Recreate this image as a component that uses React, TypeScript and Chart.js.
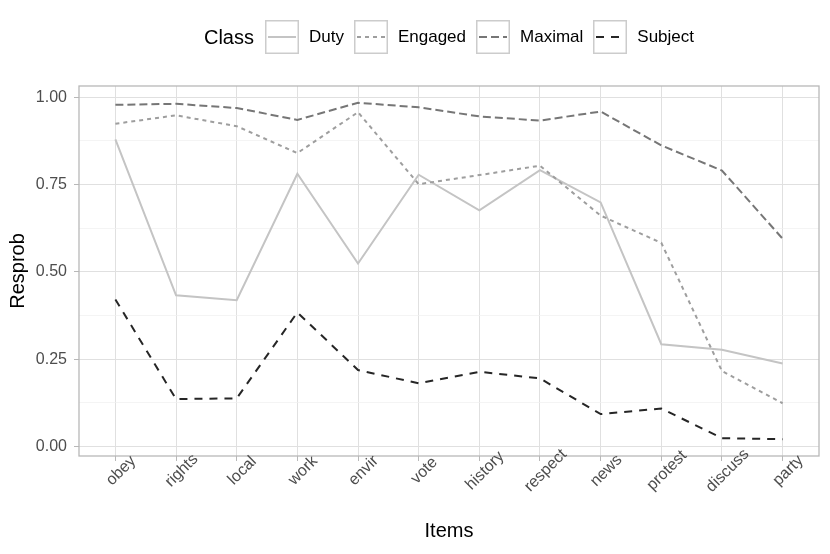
import { useEffect, useRef } from 'react';
import { Chart, registerables } from 'chart.js';

Chart.register(...registerables);

// items on the x axis, in plot order
const items = ['obey', 'rights', 'local', 'work', 'envir', 'vote', 'history', 'respect', 'news', 'protest', 'discuss', 'party'];

// response probabilities per class
const duty = [0.879, 0.433, 0.419, 0.781, 0.524, 0.778, 0.676, 0.791, 0.699, 0.293, 0.277, 0.238];
const engaged = [0.924, 0.948, 0.917, 0.840, 0.957, 0.751, 0.777, 0.804, 0.661, 0.583, 0.216, 0.124];
const maximal = [0.978, 0.981, 0.969, 0.935, 0.984, 0.971, 0.945, 0.933, 0.959, 0.862, 0.790, 0.595];
const subject = [0.421, 0.136, 0.138, 0.384, 0.219, 0.181, 0.214, 0.195, 0.093, 0.109, 0.024, 0.021];

// y grid: majors get labels, minors are just lighter lines
const yTicks = [0, 0.125, 0.25, 0.375, 0.5, 0.625, 0.75, 0.875, 1];
const yLabels = ['0.00', '', '0.25', '', '0.50', '', '0.75', '', '1.00'];

const FONT = '"Liberation Sans", Arial, Helvetica, sans-serif';

const classes = [
  { name: 'Duty', values: duty, color: '#c4c4c4', dash: [] as number[] },
  { name: 'Engaged', values: engaged, color: '#9e9e9e', dash: [4, 4] },
  { name: 'Maximal', values: maximal, color: '#767676', dash: [8, 4] },
  { name: 'Subject', values: subject, color: '#262626', dash: [8, 7] },
];

// panel border on top of everything, like ggplot
const panelBorder = {
  id: 'panelBorder',
  afterDraw(chart: Chart) {
    const { ctx, chartArea } = chart;
    ctx.save();
    ctx.strokeStyle = '#b8b8b8';
    ctx.lineWidth = 1.3;
    ctx.strokeRect(chartArea.left, chartArea.top, chartArea.right - chartArea.left, chartArea.bottom - chartArea.top);
    ctx.restore();
  },
};

// rotated x labels centred under their tick (Chart.js right-aligns rotated labels)
const xLabels = {
  id: 'xLabels',
  afterDraw(chart: Chart) {
    const { ctx, chartArea } = chart;
    const x = chart.scales.x;
    ctx.save();
    ctx.font = `16px ${FONT}`;
    ctx.fillStyle = '#4d4d4d';
    ctx.textAlign = 'center';
    ctx.textBaseline = 'top';
    items.forEach((label, i) => {
      ctx.save();
      ctx.translate(x.getPixelForValue(i), chartArea.bottom + 9);
      ctx.rotate(-Math.PI / 4);
      ctx.fillText(label, 0, 0);
      ctx.restore();
    });
    ctx.restore();
  },
};

function LegendKey({ color, dash }: { color: string; dash: number[] }) {
  return (
    <svg width={34} height={34} style={{ display: 'block' }}>
      <rect x={0.75} y={0.75} width={32.5} height={32.5} fill="white" stroke="#cccccc" strokeWidth={1.5} />
      <line x1={3} y1={17} x2={31} y2={17} stroke={color} strokeWidth={2} strokeDasharray={dash.length ? dash.join(' ') : undefined} />
    </svg>
  );
}

export default function App() {
  const canvasRef = useRef<HTMLCanvasElement>(null);

  useEffect(() => {
    if (!canvasRef.current) return;
    const chart = new Chart(canvasRef.current, {
      type: 'line',
      data: {
        datasets: classes.map((c, i) => ({
          label: c.name,
          data: c.values.map((v, j) => ({ x: j, y: v })),
          borderColor: c.color,
          borderDash: c.dash,
          borderWidth: 2,
          borderCapStyle: 'butt' as const,
          pointRadius: 0,
          tension: 0,
          fill: false,
          order: classes.length - i,
        })),
      },
      plugins: [panelBorder, xLabels],
      options: {
        responsive: false,
        animation: false,
        layout: { padding: { top: 86, right: 11, left: 0, bottom: 0 } },
        plugins: {
          legend: { display: false },
          tooltip: { enabled: false },
        },
        scales: {
          x: {
            type: 'linear',
            min: -0.6,
            max: items.length - 1 + 0.6,
            afterBuildTicks: (scale) => {
              scale.ticks = items.map((_, i) => ({ value: i }));
            },
            afterFit: (scale) => {
              scale.height = 98;
            },
            ticks: { display: false },
            grid: {
              color: '#e0e0e0',
              lineWidth: 1,
              tickLength: 5,
              tickColor: '#b8b8b8',
            },
            border: { display: false },
            title: {
              display: true,
              text: 'Items',
              color: '#000000',
              font: { family: FONT, size: 20 },
              padding: { top: 0, bottom: 11 },
            },
          },
          y: {
            type: 'linear',
            min: -0.027,
            max: 1.032,
            afterBuildTicks: (scale) => {
              scale.ticks = yTicks.map((v) => ({ value: v }));
            },
            afterFit: (scale) => {
              scale.width = 79;
            },
            ticks: {
              padding: 7,
              color: '#4d4d4d',
              font: { family: FONT, size: 16 },
              callback: (_value, index) => yLabels[index],
            },
            grid: {
              color: (ctx) => (yLabels[ctx.index] ? '#e0e0e0' : '#efefef'),
              lineWidth: (ctx) => (yLabels[ctx.index] ? 1 : 0.7),
              tickLength: 5,
              tickColor: (ctx) => (yLabels[ctx.index] ? '#b8b8b8' : 'rgba(0,0,0,0)'),
            },
            border: { display: false },
            title: {
              display: true,
              text: 'Resprob',
              color: '#000000',
              font: { family: FONT, size: 20 },
              padding: { top: 6, bottom: 0 },
            },
          },
        },
      },
    });
    return () => chart.destroy();
  }, []);

  return (
    <div style={{ position: 'absolute', left: 0, top: 0, width: 830, height: 554, background: 'white', fontFamily: FONT }}>
      <canvas ref={canvasRef} width={830} height={554} style={{ position: 'absolute', left: 0, top: 0 }} />
      <div
        style={{
          position: 'absolute',
          left: 79,
          top: 20,
          width: 740,
          height: 34,
          display: 'flex',
          justifyContent: 'center',
          alignItems: 'center',
        }}
      >
        <span style={{ fontSize: 20, color: '#000', marginRight: 11 }}>Class</span>
        {classes.map((c, i) => (
          <div key={c.name} style={{ display: 'flex', alignItems: 'center' }}>
            <LegendKey color={c.color} dash={c.dash} />
            <span style={{ fontSize: 17, color: '#000', marginLeft: 10, marginRight: i < classes.length - 1 ? 10 : 0 }}>{c.name}</span>
          </div>
        ))}
      </div>
    </div>
  );
}
